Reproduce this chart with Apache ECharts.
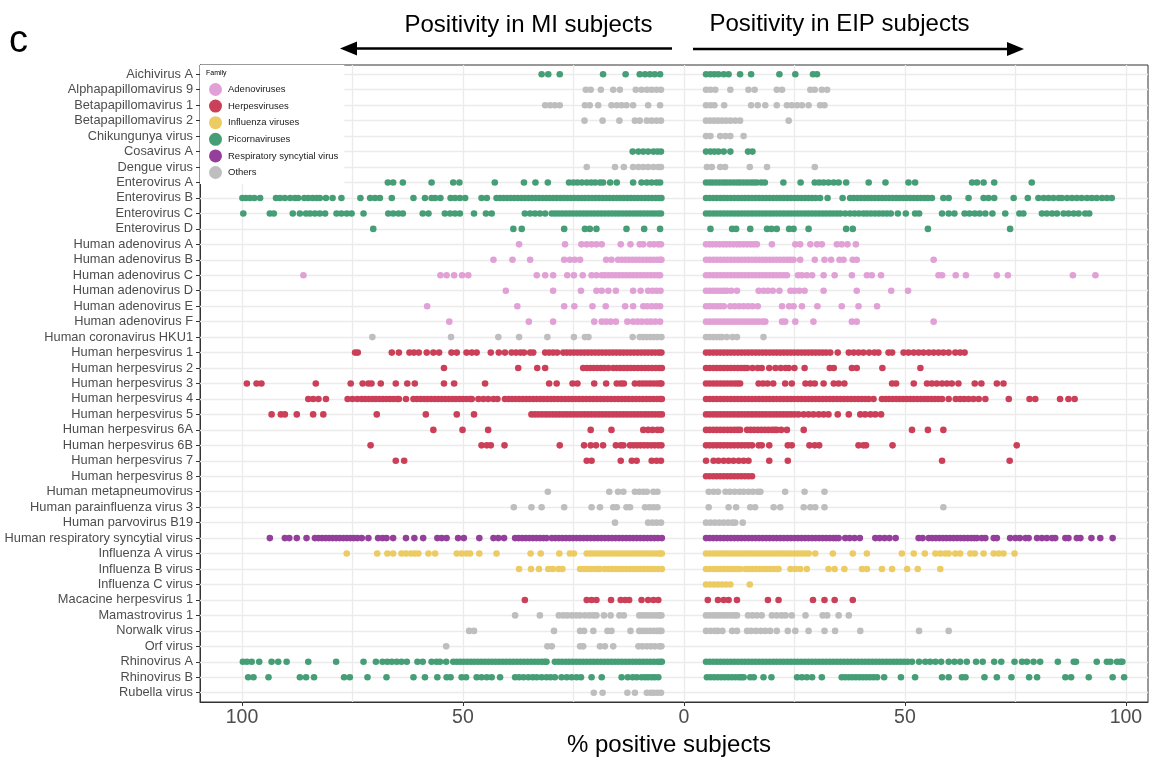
<!DOCTYPE html>
<html>
<head>
<meta charset="utf-8">
<script src="https://cdn.jsdelivr.net/npm/echarts@6/dist/echarts.min.js"></script>
<style>
  html, body { margin: 0; padding: 0; background: #ffffff; }
  #chart { width: 1155px; height: 757px; }
</style>
</head>
<body>
<div id="chart"></div>
<script>
// Viruses, top to bottom
const viruses = [
  'Aichivirus A', 'Alphapapillomavirus 9', 'Betapapillomavirus 1', 'Betapapillomavirus 2',
  'Chikungunya virus', 'Cosavirus A', 'Dengue virus', 'Enterovirus A', 'Enterovirus B',
  'Enterovirus C', 'Enterovirus D', 'Human adenovirus A', 'Human adenovirus B',
  'Human adenovirus C', 'Human adenovirus D', 'Human adenovirus E', 'Human adenovirus F',
  'Human coronavirus HKU1', 'Human herpesvirus 1', 'Human herpesvirus 2', 'Human herpesvirus 3',
  'Human herpesvirus 4', 'Human herpesvirus 5', 'Human herpesvirus 6A', 'Human herpesvirus 6B',
  'Human herpesvirus 7', 'Human herpesvirus 8', 'Human metapneumovirus',
  'Human parainfluenza virus 3', 'Human parvovirus B19', 'Human respiratory syncytial virus',
  'Influenza A virus', 'Influenza B virus', 'Influenza C virus', 'Macacine herpesvirus 1',
  'Mamastrovirus 1', 'Norwalk virus', 'Orf virus', 'Rhinovirus A', 'Rhinovirus B', 'Rubella virus'
];

// Family of each virus (same order as viruses)
const virusFamily = [
  'Picornaviruses', 'Others', 'Others', 'Others', 'Others', 'Picornaviruses', 'Others',
  'Picornaviruses', 'Picornaviruses', 'Picornaviruses', 'Picornaviruses',
  'Adenoviruses', 'Adenoviruses', 'Adenoviruses', 'Adenoviruses', 'Adenoviruses', 'Adenoviruses',
  'Others',
  'Herpesviruses', 'Herpesviruses', 'Herpesviruses', 'Herpesviruses', 'Herpesviruses',
  'Herpesviruses', 'Herpesviruses', 'Herpesviruses', 'Herpesviruses',
  'Others', 'Others', 'Others', 'Respiratory syncytial virus',
  'Influenza viruses', 'Influenza viruses', 'Influenza viruses', 'Herpesviruses',
  'Others', 'Others', 'Others', 'Picornaviruses', 'Picornaviruses', 'Others'
];

// Legend order
const familyOrder = [
  'Adenoviruses', 'Herpesviruses', 'Influenza viruses', 'Picornaviruses',
  'Respiratory syncytial virus', 'Others'
];

// x axis: labelled ticks and vertical grid lines (% positive, MI side negative)
const xTickValues = [-100, -50, 0, 50, 100];
const xGridValues = [-100, -75, -50, -25, 0, 25, 50, 75, 100];

// % positive subjects per sample group, MI subjects (one list per virus)
const miPositive = [
  /* Aichivirus A */ [32.2, 30.7, 28.1, 18.3, 13.2, 10.0, 8.8, 7.7, 6.6, 5.4],
  /* Alphapapillomavirus 9 */ [22.2, 21.1, 18.8, 16.0, 14.5, 10.9, 9.6, 8.4, 7.3, 6.2, 5.2],
  /* Betapapillomavirus 1 */ [31.4, 30.3, 29.2, 28.1, 22.4, 21.3, 19.4, 16.4, 15.2, 14.1, 13.0, 11.5, 8.1, 5.4],
  /* Betapapillomavirus 2 */ [22.5, 18.4, 14.6, 11.1, 10.0, 8.4, 7.3, 6.2, 5.2],
  /* Chikungunya virus */ [],
  /* Cosavirus A */ [11.6, 10.3, 9.2, 8.1, 6.9, 6.0, 5.2],
  /* Dengue virus */ [22.0, 15.6, 13.6, 11.5, 10.3, 9.2, 8.1, 6.9, 5.8, 5.2],
  /* Enterovirus A */ [67.0, 65.8, 63.6, 57.1, 52.2, 50.8, 42.8, 36.2, 33.6, 30.8, 26.0, 25.0, 24.1, 23.1,
    22.0, 21.0, 20.1, 19.0, 18.3, 16.7, 15.2, 11.5, 9.6, 8.4, 7.3, 6.2, 5.4],
  /* Enterovirus B */ [99.9, 99.1, 98.2, 97.2, 95.9, 92.3, 91.4, 90.3, 89.1, 88.0, 87.3, 85.9, 85.0, 84.0,
    83.1, 82.4, 81.0, 79.5, 77.5, 73.2, 71.0, 69.9, 68.8, 66.1, 61.2, 58.6, 57.1, 56.3, 55.1, 52.8, 51.8,
    50.7, 49.5, 45.8, 44.6, 42.4, 41.6, 40.8, 40.0, 39.2, 38.4, 37.6, 36.8, 36.0, 35.2, 34.4, 33.6, 32.8,
    32.0, 31.2, 30.4, 29.6, 28.8, 28.0, 27.2, 26.4, 25.6, 24.8, 24.0, 23.2, 22.4, 21.6, 20.8, 20.0, 19.2,
    18.4, 17.6, 16.8, 16.0, 15.2, 14.4, 13.6, 12.8, 12.0, 11.2, 10.4, 9.6, 8.8, 8.0, 7.2, 6.4, 5.7, 5.1],
  /* Enterovirus C */ [99.7, 93.7, 92.8, 88.5, 86.9, 85.5, 84.6, 83.5, 82.4, 81.2, 78.6, 77.5, 76.3, 75.2,
    72.5, 66.9, 65.8, 64.6, 63.6, 59.1, 57.8, 54.1, 52.9, 51.8, 50.7, 47.5, 44.8, 43.5, 36.0, 34.8, 33.7,
    32.6, 31.4, 29.9, 29.1, 28.3, 27.5, 26.7, 25.9, 25.1, 24.3, 23.5, 22.7, 21.9, 21.1, 20.3, 19.5, 18.7,
    17.9, 17.1, 16.3, 15.5, 14.7, 13.9, 13.1, 12.3, 11.5, 10.7, 9.9, 9.1, 8.3, 7.5, 6.7, 5.9, 5.2],
  /* Enterovirus D */ [70.3, 38.6, 36.7, 27.1, 22.4, 21.3, 19.8, 13.0, 9.0, 5.4],
  /* Human adenovirus A */ [37.3, 26.9, 23.2, 22.0, 20.9, 19.8, 18.6, 14.3, 12.1, 10.0, 9.2, 7.7, 6.8, 5.8, 5.2],
  /* Human adenovirus B */ [43.1, 38.8, 34.8, 27.1, 25.8, 24.7, 23.5, 17.6, 16.4, 14.9, 14.1, 13.3, 12.5,
    11.7, 10.9, 10.1, 9.3, 8.5, 7.7, 6.9, 6.1, 5.4, 5.1],
  /* Human adenovirus C */ [86.1, 55.1, 53.7, 52.0, 50.2, 48.8, 33.3, 31.4, 29.6, 26.4, 24.9, 22.9, 20.9,
    19.8, 18.6, 17.9, 17.1, 16.3, 15.5, 14.7, 13.9, 13.1, 12.3, 11.5, 10.7, 9.9, 9.1, 8.3, 7.5, 6.7, 5.9, 5.4],
  /* Human adenovirus D */ [40.3, 29.6, 23.3, 19.8, 18.6, 17.1, 15.4, 11.5, 9.8, 8.1, 7.1, 6.2, 5.3],
  /* Human adenovirus E */ [58.1, 37.7, 27.1, 24.8, 20.7, 17.7, 13.3, 11.5, 9.2, 8.3, 7.3, 6.3, 5.4],
  /* Human adenovirus F */ [53.1, 35.1, 29.6, 20.3, 18.6, 17.6, 16.6, 15.4, 12.8, 11.5, 10.5, 9.5, 8.4, 7.5, 6.5, 5.4],
  /* Human coronavirus HKU1 */ [70.5, 52.7, 42.0, 37.3, 30.9, 24.9, 22.4, 21.6, 11.6, 10.0, 9.2, 8.4, 7.6, 6.8, 6.0, 5.1],
  /* Human herpesvirus 1 */ [74.4, 73.8, 66.1, 64.5, 62.1, 61.1, 60.0, 58.2, 56.7, 55.4, 52.6, 51.4, 49.2,
    48.0, 46.9, 43.7, 41.9, 40.5, 39.0, 38.0, 37.0, 36.2, 34.8, 34.1, 31.4, 30.5, 29.6, 28.7, 27.3, 26.5,
    25.7, 24.9, 24.1, 23.3, 22.5, 21.7, 20.9, 20.1, 19.3, 18.5, 17.7, 16.9, 16.1, 15.3, 14.5, 13.7, 12.9,
    12.1, 11.3, 10.5, 9.7, 8.9, 8.1, 7.3, 6.5, 5.7, 5.1],
  /* Human herpesvirus 2 */ [54.3, 37.5, 33.2, 31.4, 22.8, 22.0, 21.2, 20.4, 19.6, 18.8, 18.0, 17.1, 16.0,
    15.2, 14.4, 13.6, 12.8, 12.0, 11.2, 10.4, 9.6, 8.8, 8.0, 7.2, 6.4, 5.6, 5.0],
  /* Human herpesvirus 3 */ [98.9, 96.7, 95.6, 83.3, 75.4, 72.7, 71.4, 70.7, 68.6, 65.2, 62.6, 60.9, 54.3,
    52.0, 45.0, 30.5, 28.8, 25.2, 24.1, 20.3, 17.6, 15.2, 14.3, 13.6, 11.1, 10.1, 9.3, 8.5, 7.7, 6.9, 6.1, 5.4, 5.1],
  /* Human herpesvirus 4 */ [85.0, 83.9, 82.7, 81.0, 76.1, 75.0, 73.9, 72.9, 72.1, 71.3, 70.5, 69.7, 68.9,
    68.1, 67.3, 66.5, 65.7, 64.9, 64.5, 62.9, 61.2, 60.4, 59.6, 58.8, 58.0, 57.2, 56.4, 55.6, 54.8, 54.0,
    53.2, 52.4, 51.6, 50.8, 50.0, 49.2, 48.4, 48.0, 46.5, 45.4, 44.3, 43.1, 42.2, 40.5, 39.7, 38.9, 38.1,
    37.3, 36.5, 35.7, 34.9, 34.1, 33.3, 32.5, 31.7, 30.9, 30.1, 29.3, 28.5, 27.7, 26.9, 26.1, 25.3, 24.5,
    23.7, 22.9, 22.1, 21.3, 20.5, 19.7, 18.9, 18.1, 17.3, 16.5, 15.7, 14.9, 14.1, 13.3, 12.5, 11.7, 10.9,
    10.1, 9.3, 8.5, 7.7, 6.9, 6.1, 5.4, 5.0],
  /* Human herpesvirus 5 */ [93.3, 91.2, 90.3, 87.6, 83.9, 81.6, 69.5, 58.4, 51.4, 47.5, 34.5, 33.7, 32.9,
    32.1, 31.3, 30.5, 29.7, 28.9, 28.1, 27.3, 26.5, 25.7, 24.9, 24.1, 23.3, 22.5, 21.7, 20.9, 20.1, 19.3,
    18.5, 17.7, 16.9, 16.1, 15.3, 14.5, 13.7, 12.9, 12.1, 11.3, 10.5, 9.7, 8.9, 8.1, 7.3, 6.5, 5.7, 5.0],
  /* Human herpesvirus 6A */ [56.7, 50.1, 44.3, 21.1, 16.4, 9.2, 8.1, 7.1, 6.0, 5.2],
  /* Human herpesvirus 6B */ [70.9, 45.8, 44.6, 43.7, 40.6, 28.1, 22.6, 21.1, 19.9, 18.3, 15.4, 14.3, 13.7,
    12.2, 11.4, 10.6, 9.8, 9.0, 8.2, 7.4, 6.6, 5.8, 5.1],
  /* Human herpesvirus 7 */ [65.2, 63.3, 22.0, 20.9, 14.3, 11.8, 10.7, 7.3, 6.2, 5.2],
  /* Human herpesvirus 8 */ [],
  /* Human metapneumovirus */ [30.8, 16.9, 14.9, 13.7, 11.1, 10.1, 9.2, 8.4, 6.9, 6.0],
  /* Human parainfluenza virus 3 */ [38.5, 34.5, 32.2, 27.1, 20.9, 19.0, 16.0, 15.2, 13.0, 12.2, 8.8, 7.8, 6.9, 6.0],
  /* Human parvovirus B19 */ [15.6, 8.1, 7.1, 6.2, 5.2],
  /* Human respiratory syncytial virus */ [93.7, 90.3, 89.3, 87.6, 85.4, 83.5, 82.7, 81.9, 81.1, 80.3, 79.5,
    78.7, 77.9, 77.1, 76.3, 75.5, 74.7, 73.9, 72.9, 71.4, 69.2, 68.2, 67.3, 65.8, 62.9, 61.0, 59.0, 55.8,
    54.8, 53.7, 51.1, 49.8, 46.3, 43.1, 42.0, 40.7, 38.2, 37.4, 36.6, 35.8, 35.0, 34.2, 33.4, 32.6, 31.8,
    31.1, 29.9, 29.1, 28.3, 27.5, 26.7, 25.9, 25.1, 24.3, 23.5, 22.7, 21.9, 21.1, 20.3, 19.5, 18.7, 17.9,
    17.1, 16.3, 15.5, 14.7, 13.9, 13.1, 12.3, 11.5, 10.7, 9.9, 9.1, 8.3, 7.5, 6.7, 5.9, 5.0],
  /* Influenza A virus */ [76.3, 69.4, 67.1, 65.8, 63.9, 62.9, 61.8, 60.9, 60.1, 57.8, 56.3, 51.4, 50.3,
    49.2, 48.4, 46.3, 42.4, 34.7, 32.4, 28.2, 25.8, 24.9, 22.0, 21.2, 20.4, 19.6, 18.8, 18.0, 17.2, 16.4,
    15.6, 14.8, 14.0, 13.2, 12.4, 11.6, 10.8, 10.0, 9.2, 8.4, 7.6, 6.8, 6.0, 5.4, 5.0],
  /* Influenza B virus */ [37.3, 34.6, 32.8, 30.7, 29.7, 28.4, 27.5, 23.5, 22.7, 21.9, 21.1, 20.3, 19.5,
    19.0, 17.9, 17.1, 16.3, 15.5, 14.7, 13.9, 13.1, 12.3, 11.5, 10.7, 9.9, 9.1, 8.3, 7.5, 6.7, 5.9, 5.0],
  /* Influenza C virus */ [],
  /* Macacine herpesvirus 1 */ [36.0, 22.0, 20.9, 19.8, 16.5, 14.3, 13.3, 12.4, 9.6, 8.1, 6.9, 5.8],
  /* Mamastrovirus 1 */ [38.2, 32.6, 28.3, 27.3, 26.4, 25.4, 24.4, 23.5, 22.4, 21.4, 20.5, 19.8, 18.1, 16.6,
    14.6, 13.6, 10.1, 9.3, 8.5, 7.7, 6.9, 6.1, 5.5, 5.1],
  /* Norwalk virus */ [48.6, 47.5, 29.4, 23.5, 22.6, 20.5, 17.3, 16.4, 12.1, 10.1, 9.3, 8.5, 7.7, 6.9, 6.1, 5.5, 5.1],
  /* Orf virus */ [53.8, 30.9, 29.9, 23.5, 22.8, 19.0, 17.9, 16.0, 10.3, 9.4, 8.4, 7.5, 6.6, 5.6, 5.1],
  /* Rhinovirus A */ [99.8, 98.9, 97.8, 96.1, 93.3, 91.8, 89.9, 85.0, 78.7, 72.5, 69.7, 68.2, 67.1, 66.1,
    65.0, 63.9, 62.7, 60.3, 59.1, 57.1, 56.0, 55.2, 53.8, 52.2, 51.4, 50.6, 49.8, 49.0, 48.2, 47.4, 46.6,
    45.8, 45.0, 44.2, 43.4, 42.6, 41.8, 41.0, 40.2, 39.4, 38.6, 37.8, 37.0, 36.2, 35.4, 34.6, 33.8, 33.0,
    32.2, 31.5, 31.1, 29.2, 28.4, 27.6, 26.8, 26.0, 25.2, 24.4, 23.6, 22.8, 22.0, 21.2, 20.4, 19.6, 18.8,
    18.0, 17.2, 16.4, 15.6, 14.8, 14.0, 13.2, 12.4, 11.6, 10.8, 10.0, 9.2, 8.4, 7.6, 6.8, 6.0, 5.4, 5.0],
  /* Rhinovirus B */ [98.6, 97.4, 94.0, 86.9, 85.5, 83.7, 76.9, 75.6, 71.6, 67.3, 61.2, 58.6, 55.8, 53.7,
    52.8, 50.3, 49.3, 46.9, 45.8, 44.6, 43.5, 41.6, 38.2, 37.3, 36.3, 35.2, 34.2, 33.3, 32.2, 31.1, 30.2,
    29.2, 27.7, 26.5, 25.4, 24.3, 23.3, 20.9, 18.6, 14.1, 12.7, 11.6, 10.7, 9.6, 8.8, 8.1, 7.3, 6.6, 5.8],
  /* Rubella virus */ [20.4, 18.4, 12.8, 11.1, 8.4, 7.5, 6.8, 6.0, 5.2]
];

// % positive subjects per sample group, EIP subjects (one list per virus)
const eipPositive = [
  /* Aichivirus A */ [5.0, 6.0, 6.9, 7.8, 9.0, 10.1, 12.7, 15.2, 21.6, 25.2, 29.2, 30.1],
  /* Alphapapillomavirus 9 */ [5.0, 6.0, 7.1, 10.5, 14.6, 16.0, 21.0, 22.2, 28.6, 29.6, 31.2, 32.4],
  /* Betapapillomavirus 1 */ [5.0, 6.0, 6.9, 9.1, 15.2, 16.7, 18.4, 21.0, 23.3, 24.4, 25.6, 26.7, 28.2, 30.8, 31.8],
  /* Betapapillomavirus 2 */ [5.0, 5.9, 6.8, 7.7, 8.6, 9.5, 10.5, 11.6, 12.7, 23.7],
  /* Chikungunya virus */ [5.0, 6.0, 8.2, 9.4, 10.5, 13.5],
  /* Cosavirus A */ [5.0, 6.0, 6.9, 7.8, 9.0, 10.5, 14.5, 15.5],
  /* Dengue virus */ [5.2, 6.3, 8.2, 9.3, 14.9, 18.8, 29.6],
  /* Enterovirus A */ [5.0, 5.8, 6.5, 7.3, 8.1, 8.9, 9.6, 10.4, 11.2, 12.0, 12.7, 13.5, 14.3, 15.1, 15.8,
    16.5, 17.5, 18.3, 22.5, 26.4, 29.6, 30.6, 31.6, 32.7, 33.9, 35.0, 36.7, 41.8, 45.6, 50.8, 52.3, 65.2,
    66.3, 67.8, 70.2, 78.7],
  /* Enterovirus B */ [5.0, 5.8, 6.6, 7.4, 8.2, 9.0, 9.8, 10.6, 11.4, 12.2, 13.0, 13.8, 14.6, 15.4, 16.2,
    17.0, 17.8, 18.6, 19.4, 20.2, 21.0, 21.8, 22.6, 23.4, 24.2, 25.0, 25.8, 26.6, 27.4, 28.2, 29.0, 29.8,
    30.8, 32.5, 35.9, 37.6, 38.4, 39.2, 40.0, 40.8, 41.6, 42.4, 43.2, 44.0, 44.8, 45.6, 46.4, 47.2, 48.0,
    48.8, 49.6, 50.4, 51.2, 52.0, 52.8, 53.6, 54.4, 55.2, 56.1, 58.7, 59.9, 64.4, 67.8, 68.9, 70.2, 74.6,
    77.8, 80.2, 81.4, 82.5, 83.6, 84.8, 85.5, 86.7, 87.8, 88.9, 90.0, 91.2, 92.3, 93.4, 94.6, 95.7, 96.8],
  /* Enterovirus C */ [5.0, 5.8, 6.6, 7.4, 8.2, 9.0, 9.8, 10.6, 11.4, 12.2, 13.0, 13.8, 14.6, 15.4, 16.2,
    17.0, 17.8, 18.6, 19.4, 20.2, 21.0, 21.8, 22.6, 23.4, 24.2, 25.0, 25.8, 26.6, 27.4, 28.2, 29.0, 29.8,
    30.6, 31.4, 32.2, 33.0, 33.8, 34.6, 35.4, 36.5, 37.6, 38.6, 39.6, 40.6, 41.4, 42.3, 43.2, 44.1, 45.0,
    45.9, 46.8, 48.4, 50.2, 52.3, 53.2, 58.4, 59.9, 61.2, 63.5, 64.6, 65.8, 66.9, 68.2, 69.8, 72.7, 75.9,
    76.8, 81.0, 82.1, 83.3, 84.4, 85.9, 87.0, 88.2, 89.3, 90.8, 91.7],
  /* Enterovirus D */ [6.0, 10.9, 11.8, 15.0, 18.8, 19.8, 21.0, 23.8, 24.8, 28.2, 36.7, 38.2, 55.2, 73.8],
  /* Human adenovirus A */ [5.0, 5.8, 6.5, 7.3, 8.1, 8.9, 9.6, 10.4, 11.2, 12.0, 12.7, 13.5, 14.3, 15.1,
    15.8, 16.5, 19.9, 25.2, 26.3, 28.6, 30.1, 31.2, 34.6, 35.7, 37.0, 38.9],
  /* Human adenovirus B */ [5.0, 5.8, 6.6, 7.4, 8.2, 9.0, 9.8, 10.6, 11.4, 12.2, 13.0, 13.8, 14.6, 15.4,
    16.2, 17.0, 17.8, 18.6, 19.4, 20.2, 21.0, 21.8, 22.6, 23.4, 24.1, 24.8, 26.3, 29.6, 31.8, 33.3, 35.2,
    36.1, 38.2, 39.1, 56.5],
  /* Human adenovirus C */ [5.0, 5.8, 6.6, 7.4, 8.2, 9.0, 9.8, 10.6, 11.4, 12.2, 13.0, 13.8, 14.6, 15.4,
    16.2, 17.0, 17.8, 18.6, 19.4, 20.2, 21.0, 21.8, 22.6, 23.3, 25.8, 26.7, 27.8, 29.0, 31.6, 34.1, 38.0,
    41.4, 42.5, 44.6, 57.6, 58.4, 61.5, 63.8, 70.8, 73.3, 88.0, 93.1],
  /* Human adenovirus D */ [5.0, 5.8, 6.6, 7.4, 8.2, 9.0, 9.7, 10.7, 12.0, 16.9, 18.0, 19.0, 20.1, 21.6,
    24.1, 25.0, 26.1, 27.3, 31.6, 39.1, 46.9, 50.7],
  /* Human adenovirus E */ [5.0, 5.8, 6.6, 7.4, 8.2, 9.0, 10.5, 11.5, 12.5, 13.5, 14.5, 15.5, 16.7, 22.2,
    23.8, 24.8, 26.7, 30.2, 35.7, 39.5, 43.7],
  /* Human adenovirus F */ [5.0, 5.8, 6.6, 7.4, 8.2, 9.0, 9.8, 10.6, 11.4, 12.2, 13.0, 13.8, 14.6, 15.4,
    16.2, 17.0, 17.8, 18.4, 22.2, 22.9, 25.2, 29.3, 38.0, 39.1, 56.5],
  /* Human coronavirus HKU1 */ [5.0, 5.8, 6.6, 7.4, 8.1, 8.6, 9.7, 11.0, 12.0, 18.0],
  /* Human herpesvirus 1 */ [5.0, 5.8, 6.6, 7.4, 8.2, 9.0, 9.8, 10.6, 11.4, 12.2, 13.0, 13.8, 14.6, 15.4,
    16.2, 17.0, 17.8, 18.6, 19.4, 20.2, 21.0, 21.8, 22.6, 23.4, 24.2, 25.0, 25.8, 26.6, 27.4, 28.2, 29.0,
    29.8, 30.6, 31.4, 32.2, 33.1, 34.8, 37.3, 38.4, 39.5, 40.6, 41.9, 43.1, 44.0, 46.3, 47.1, 49.7, 50.8,
    52.0, 53.1, 54.2, 55.4, 56.5, 57.6, 58.7, 59.9, 61.4, 62.5, 63.5],
  /* Human herpesvirus 2 */ [5.0, 5.8, 6.6, 7.4, 8.2, 9.0, 9.8, 10.6, 11.4, 12.2, 13.0, 13.7, 14.3, 15.5,
    16.7, 17.6, 19.3, 20.7, 21.9, 23.0, 23.7, 25.0, 27.3, 33.0, 33.9, 38.0, 39.1, 44.9, 53.5],
  /* Human herpesvirus 3 */ [5.0, 5.8, 6.6, 7.4, 8.2, 9.0, 9.8, 10.6, 11.4, 12.1, 12.7, 16.9, 17.9, 18.9,
    20.2, 22.9, 24.4, 27.5, 28.6, 29.6, 31.6, 33.9, 35.0, 36.3, 47.1, 48.0, 52.0, 55.0, 56.1, 57.2, 58.4,
    59.5, 60.6, 62.1, 65.8, 67.3, 70.8, 72.3],
  /* Human herpesvirus 4 */ [5.0, 5.8, 6.6, 7.4, 8.2, 9.0, 9.8, 10.6, 11.4, 12.2, 13.0, 13.8, 14.6, 15.4,
    16.2, 17.0, 17.8, 18.6, 19.4, 20.2, 21.0, 21.8, 22.6, 23.4, 24.2, 25.0, 25.8, 26.6, 27.4, 28.2, 29.0,
    29.8, 30.6, 31.4, 32.2, 33.0, 33.8, 34.6, 35.4, 36.2, 37.0, 37.8, 38.6, 39.4, 40.2, 41.0, 41.8, 42.9,
    44.8, 45.6, 46.4, 47.2, 48.0, 48.8, 49.6, 50.4, 51.2, 52.0, 52.8, 53.6, 54.4, 55.2, 56.0, 56.8, 57.6,
    58.4, 59.9, 61.5, 62.5, 63.4, 64.4, 65.5, 66.7, 68.2, 73.5, 78.2, 79.5, 85.1, 87.0, 88.4],
  /* Human herpesvirus 5 */ [5.0, 5.8, 6.6, 7.4, 8.2, 9.0, 9.8, 10.6, 11.4, 12.2, 13.0, 13.8, 14.6, 15.4,
    16.2, 17.0, 17.8, 18.6, 19.4, 20.2, 21.0, 21.8, 22.6, 23.4, 24.2, 25.0, 25.9, 27.1, 28.2, 29.3, 30.5,
    31.6, 32.7, 34.8, 37.3, 39.9, 41.0, 42.2, 43.3, 44.6],
  /* Human herpesvirus 6A */ [5.0, 5.8, 6.6, 7.4, 8.2, 9.0, 9.8, 10.6, 11.4, 12.1, 12.7, 14.3, 15.1, 15.9,
    16.7, 17.5, 18.3, 19.1, 19.9, 20.5, 21.0, 22.0, 23.3, 27.1, 51.6, 55.2, 58.7],
  /* Human herpesvirus 6B */ [5.0, 5.8, 6.6, 7.4, 8.2, 9.0, 9.8, 10.6, 11.4, 12.2, 13.0, 13.8, 14.6, 15.4,
    16.9, 17.6, 19.3, 23.5, 24.4, 28.4, 29.6, 30.6, 39.5, 40.6, 41.2, 47.2, 75.3],
  /* Human herpesvirus 7 */ [5.0, 6.7, 7.8, 9.0, 10.1, 11.2, 12.4, 13.5, 14.6, 19.3, 23.5, 58.4, 73.7],
  /* Human herpesvirus 8 */ [5.0, 5.8, 6.6, 7.4, 8.2, 9.0, 9.8, 10.6, 11.4, 12.2, 13.0, 13.8, 14.6, 15.4],
  /* Human metapneumovirus */ [5.6, 6.7, 7.7, 9.4, 10.4, 11.5, 12.6, 13.5, 14.6, 15.6, 16.7, 17.3, 22.9, 27.3, 31.8],
  /* Human parainfluenza virus 3 */ [5.6, 10.1, 11.8, 15.0, 16.1, 20.3, 21.8, 27.1, 28.6, 29.7, 31.8, 58.7],
  /* Human parvovirus B19 */ [5.0, 6.0, 7.0, 8.0, 9.0, 10.0, 11.0, 11.6, 13.3],
  /* Human respiratory syncytial virus */ [5.0, 5.8, 6.6, 7.4, 8.2, 9.0, 9.8, 10.6, 11.4, 12.2, 13.0, 13.8,
    14.6, 15.4, 16.2, 17.0, 17.8, 18.6, 19.4, 20.2, 21.0, 21.8, 22.6, 23.4, 24.2, 25.0, 25.8, 26.6, 27.4,
    28.2, 29.0, 29.8, 30.6, 31.4, 32.2, 33.0, 33.8, 34.4, 35.0, 36.5, 37.5, 38.6, 39.8, 43.3, 44.3, 45.4,
    46.5, 47.9, 53.1, 54.0, 55.4, 56.2, 57.0, 57.8, 58.6, 59.4, 60.2, 61.0, 61.8, 62.6, 63.4, 64.2, 65.0,
    65.7, 66.3, 67.4, 68.2, 70.1, 70.8, 73.8, 75.0, 76.0, 77.3, 78.0, 79.9, 81.0, 82.1, 83.3, 84.0, 86.3,
    87.0, 88.9, 89.7, 92.2, 94.2, 97.0],
  /* Influenza A virus */ [5.0, 5.8, 6.6, 7.4, 8.2, 9.0, 9.8, 10.6, 11.4, 12.2, 13.0, 13.8, 14.6, 15.4,
    16.2, 17.0, 17.8, 18.6, 19.4, 20.2, 21.0, 21.8, 22.6, 23.4, 24.2, 25.0, 25.8, 26.6, 27.4, 28.2, 29.7,
    33.7, 38.2, 41.4, 49.3, 52.0, 54.5, 56.9, 58.0, 59.1, 59.9, 61.4, 62.5, 64.8, 65.8, 67.8, 70.1, 71.2,
    72.3, 74.8],
  /* Influenza B virus */ [5.0, 5.8, 6.6, 7.4, 8.2, 9.0, 9.8, 10.6, 11.4, 12.1, 12.7, 13.9, 14.7, 15.5,
    16.3, 17.1, 17.9, 18.7, 19.5, 20.3, 21.0, 21.4, 24.1, 25.2, 26.3, 27.8, 32.7, 34.1, 36.3, 40.3, 41.4,
    44.8, 47.1, 50.5, 52.9, 58.0],
  /* Influenza C virus */ [5.0, 5.9, 6.8, 7.7, 8.6, 9.5, 10.5, 14.9],
  /* Macacine herpesvirus 1 */ [5.4, 7.7, 9.0, 10.1, 12.0, 19.0, 21.4, 29.2, 31.8, 34.1, 38.2],
  /* Mamastrovirus 1 */ [5.0, 5.8, 6.6, 7.4, 8.2, 9.0, 9.8, 10.6, 11.4, 12.0, 14.5, 15.5, 16.5, 17.6, 19.9,
    21.0, 22.1, 23.0, 24.4, 27.5, 31.4, 32.4, 35.0, 37.3],
  /* Norwalk virus */ [5.0, 6.0, 7.0, 7.7, 8.7, 10.9, 12.0, 14.3, 15.2, 16.3, 17.4, 18.4, 19.5, 21.0, 23.5,
    25.2, 28.2, 31.8, 34.2, 39.9, 53.2, 59.9],
  /* Orf virus */ [],
  /* Rhinovirus A */ [5.0, 5.8, 6.6, 7.4, 8.2, 9.0, 9.8, 10.6, 11.4, 12.2, 13.0, 13.8, 14.6, 15.4, 16.2,
    17.0, 17.8, 18.6, 19.4, 20.2, 21.0, 21.8, 22.6, 23.4, 24.2, 25.0, 25.8, 26.6, 27.4, 28.2, 29.0, 29.8,
    30.6, 31.4, 32.2, 33.0, 33.8, 34.6, 35.4, 36.2, 37.0, 37.8, 38.6, 39.4, 40.2, 41.0, 41.8, 42.6, 43.4,
    44.2, 45.0, 45.8, 46.6, 47.4, 48.2, 49.0, 49.8, 50.6, 51.6, 53.2, 54.6, 55.7, 56.9, 58.2, 59.9, 61.2,
    62.5, 64.0, 66.1, 67.6, 70.2, 71.8, 74.8, 76.5, 77.6, 79.1, 80.6, 84.6, 88.2, 88.7, 93.4, 95.7, 96.5,
    98.0, 98.8, 99.2],
  /* Rhinovirus B */ [5.2, 6.0, 6.8, 7.6, 8.4, 9.2, 10.0, 10.8, 11.6, 12.4, 13.0, 13.5, 15.0, 15.8, 18.0,
    19.8, 25.6, 26.7, 27.8, 29.0, 31.2, 35.7, 36.5, 37.3, 38.1, 38.9, 39.7, 40.5, 41.3, 42.1, 42.9, 43.7,
    45.3, 49.1, 52.3, 58.4, 59.9, 62.9, 63.7, 68.0, 70.8, 74.1, 78.1, 79.9, 86.3, 87.6, 91.6, 97.0, 99.6],
  /* Rubella virus */ []
];

// ---- styling ----
const FONT = '"Liberation Sans", Arial, Helvetica, sans-serif';
const familyColor = {
  'Adenoviruses': '#E1A0D6',
  'Herpesviruses': '#CB4058',
  'Influenza viruses': '#ECCB62',
  'Picornaviruses': '#469E77',
  'Respiratory syncytial virus': '#943F9C',
  'Others': '#BEBEBE'
};
const rowIndex = viruses.map((_, i) => i);

// one scatter series per family; MI values are mirrored to the left of zero
const familyPoints = familyOrder.map(() => []);
viruses.forEach((name, i) => {
  const k = familyOrder.indexOf(virusFamily[i]);
  miPositive[i].forEach(v => familyPoints[k].push([-v, i]));
  eipPositive[i].forEach(v => familyPoints[k].push([v, i]));
});

const chart = echarts.init(document.getElementById('chart'), null, { renderer: 'canvas' });

const pointSeries = familyOrder.map((fam, k) => ({
  name: fam,
  type: 'scatter',
  data: familyPoints[k],
  symbol: 'circle',
  symbolSize: 6.6,
  itemStyle: { color: familyColor[fam], opacity: 1 },
  emphasis: { disabled: true },
  progressive: 0,
  large: false,
  z: 3
}));

// panel grid lines, kept underneath the points
const gridSeries = {
  name: 'panel-grid',
  type: 'scatter',
  data: [],
  silent: true,
  z: 1,
  markLine: {
    z: 1,
    silent: true,
    animation: false,
    symbol: ['none', 'none'],
    label: { show: false },
    emphasis: { disabled: true },
    lineStyle: { color: '#EBEBEB', width: 1.3, type: 'solid' },
    data: [
      ...xGridValues.map(v => ({ xAxis: v })),
      ...rowIndex.map(i => ({ yAxis: i }))
    ]
  }
};

const option = {
  animation: false,
  backgroundColor: '#ffffff',
  textStyle: { fontFamily: FONT },
  grid: {
    left: 200, top: 65, right: 7, bottom: 55,
    show: true, borderColor: '#333333', borderWidth: 1, backgroundColor: 'transparent'
  },
  xAxis: {
    type: 'value',
    min: -109.5,
    max: 105,
    axisLine: { show: true, onZero: false, lineStyle: { color: '#333333', width: 1 } },
    axisTick: { show: true, length: 4, customValues: xTickValues, lineStyle: { color: '#333333' } },
    axisLabel: {
      customValues: xTickValues,
      formatter: v => String(Math.abs(v)),
      fontSize: 19.5, color: '#4D4D4D', margin: 6, fontFamily: FONT
    },
    splitLine: { show: false }
  },
  yAxis: {
    type: 'value',
    inverse: true,
    min: -0.6,
    max: 40.6,
    axisLine: { show: true, onZero: false, lineStyle: { color: '#333333', width: 1 } },
    axisTick: { show: true, length: 4, customValues: rowIndex, lineStyle: { color: '#333333' } },
    axisLabel: {
      customValues: rowIndex,
      formatter: v => viruses[Math.round(v)] || '',
      fontSize: 12.8, color: '#4D4D4D', margin: 7, fontFamily: FONT
    },
    splitLine: { show: false }
  },
  legend: {
    data: familyOrder,
    orient: 'vertical',
    left: 200, top: 65,
    padding: [18, 6, 5, 9],
    itemGap: 3.6,
    itemWidth: 13, itemHeight: 13,
    icon: 'circle',
    backgroundColor: '#ffffff',
    selectedMode: false,
    textStyle: { fontSize: 9.5, color: '#1A1A1A', fontFamily: FONT, padding: [0, 0, 0, 1] },
    z: 10
  },
  graphic: [
    { type: 'text', x: 9, y: 42, z: 100,
      style: { text: 'c', fontSize: 38, fontFamily: FONT, fill: '#000000',
               textAlign: 'left', textVerticalAlign: 'middle' } },
    { type: 'text', x: 528.5, y: 25, z: 100,
      style: { text: 'Positivity in MI subjects', fontSize: 24, fontFamily: FONT, fill: '#000000',
               textAlign: 'center', textVerticalAlign: 'middle' } },
    { type: 'text', x: 839.5, y: 24, z: 100,
      style: { text: 'Positivity in EIP subjects', fontSize: 24, fontFamily: FONT, fill: '#000000',
               textAlign: 'center', textVerticalAlign: 'middle' } },
    { type: 'line', z: 100, shape: { x1: 672, y1: 48.5, x2: 352, y2: 48.5 },
      style: { stroke: '#000000', lineWidth: 2.6 } },
    { type: 'polygon', z: 100, shape: { points: [[340, 48.5], [357, 41.5], [357, 55.5]] },
      style: { fill: '#000000' } },
    { type: 'line', z: 100, shape: { x1: 693, y1: 49, x2: 1011, y2: 49 },
      style: { stroke: '#000000', lineWidth: 2.6 } },
    { type: 'polygon', z: 100, shape: { points: [[1024, 49], [1007, 42], [1007, 56]] },
      style: { fill: '#000000' } },
    { type: 'text', left: 206, top: 70, z: 100,
      style: { text: 'Family', fontSize: 7, fontFamily: FONT, fill: '#000000' } },
    { type: 'text', x: 669, y: 745, z: 100,
      style: { text: '% positive subjects', fontSize: 24, fontFamily: FONT, fill: '#000000',
               textAlign: 'center', textVerticalAlign: 'middle' } }
  ],
  series: [gridSeries, ...pointSeries]
};

chart.setOption(option);
</script>
</body>
</html>
